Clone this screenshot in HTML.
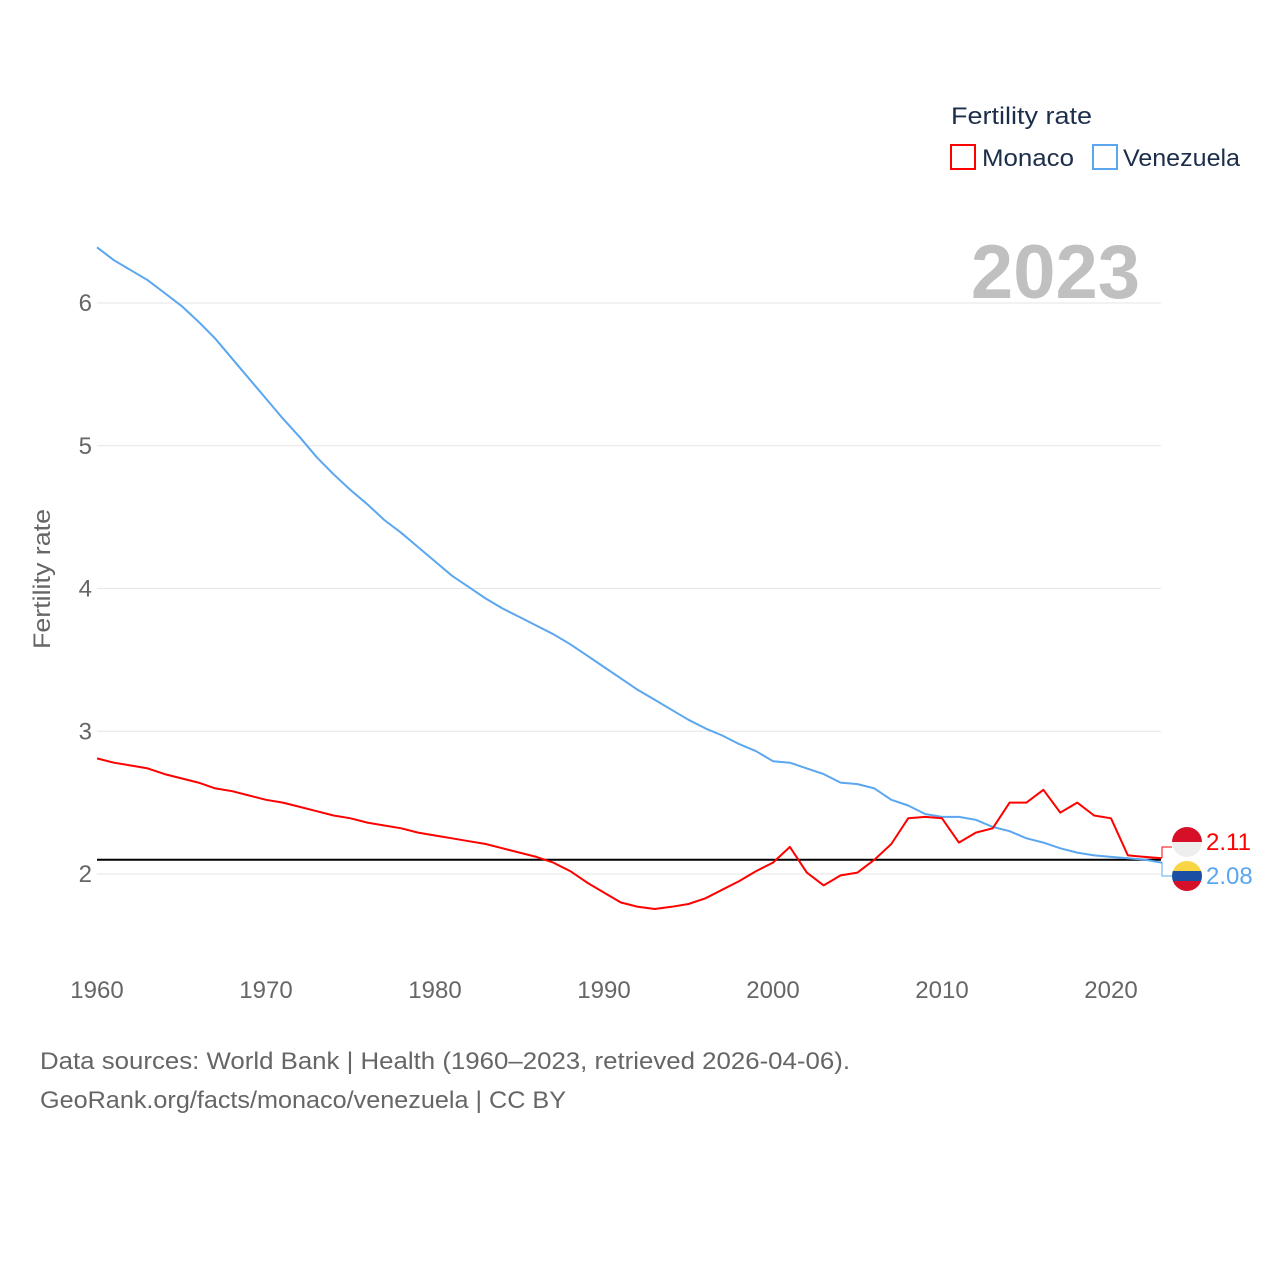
<!DOCTYPE html>
<html><head><meta charset="utf-8"><style>
html,body{margin:0;padding:0;background:#fff;}
svg{display:block;font-family:"Liberation Sans",sans-serif;}
</style></head><body>
<svg id="chart" width="1280" height="1280" viewBox="0 0 1280 1280">
<g id="grid"></g>
<g id="yticks"></g>
<g id="xticks"></g>
<text x="50" y="579" transform="rotate(-90 50 579)" text-anchor="middle" font-size="24" fill="#666" textLength="140" lengthAdjust="spacingAndGlyphs">Fertility rate</text>
<text x="1140" y="298" text-anchor="end" font-size="76" font-weight="bold" fill="#c0c0c0">2023</text>
<g id="series"></g>
<g>
<text x="951" y="124" font-size="24" fill="#1c2e4a" textLength="141" lengthAdjust="spacingAndGlyphs">Fertility rate</text>
<g><rect x="951" y="145" width="24" height="24" fill="none" stroke="#f00" stroke-width="2"/><text x="982" y="166" font-size="24" fill="#1c2e4a" textLength="92" lengthAdjust="spacingAndGlyphs">Monaco</text></g>
<g><rect x="1093" y="145" width="24" height="24" fill="none" stroke="#5aa7f0" stroke-width="2"/><text x="1123" y="166" font-size="24" fill="#1c2e4a" textLength="117" lengthAdjust="spacingAndGlyphs">Venezuela</text></g>
</g>
<g>
<path d="M1162 858 V847 H1172" fill="none" stroke="#f00" stroke-width="1"/>
<path d="M1162 862 V876 H1172" fill="none" stroke="#5aa7f0" stroke-width="1"/>
<defs><clipPath id="c1"><circle cx="1187" cy="842" r="15"/></clipPath><clipPath id="c2"><circle cx="1187" cy="876" r="15"/></clipPath></defs>
<g clip-path="url(#c1)"><rect x="1170" y="826" width="34" height="16" fill="#d7102a"/><rect x="1170" y="842" width="34" height="16" fill="#eee"/></g>
<g clip-path="url(#c2)"><rect x="1170" y="860" width="34" height="11" fill="#f9d443"/><rect x="1170" y="871" width="34" height="10" fill="#1b4fa3"/><rect x="1170" y="881" width="34" height="12" fill="#d7102a"/></g>
<text x="1206" y="850" font-size="24" fill="#f00">2.11</text>
<text x="1206" y="884" font-size="24" fill="#5aa7f0">2.08</text>
</g>
<g>
<text x="40" y="1069" font-size="24" fill="#666" textLength="810" lengthAdjust="spacingAndGlyphs">Data sources: World Bank | Health (1960–2023, retrieved 2026-04-06).</text>
<text x="40" y="1108" font-size="24" fill="#666" textLength="526" lengthAdjust="spacingAndGlyphs">GeoRank.org/facts/monaco/venezuela | CC BY</text>
</g>
</svg>
<script>
const years = [];
for (let y = 1960; y <= 2023; y++) years.push(y);
const monaco = [2.81,2.78,2.76,2.74,2.70,2.67,2.64,2.60,2.58,2.55,2.52,2.50,2.47,2.44,2.41,2.39,2.36,2.34,2.32,2.29,2.27,2.25,2.23,2.21,2.18,2.15,2.12,2.08,2.02,1.94,1.87,1.80,1.77,1.755,1.77,1.79,1.83,1.89,1.95,2.02,2.08,2.19,2.01,1.92,1.99,2.01,2.10,2.21,2.39,2.40,2.39,2.22,2.29,2.32,2.50,2.50,2.59,2.43,2.50,2.41,2.39,2.13,2.12,2.11];
const venezuela = [6.39,6.30,6.23,6.16,6.07,5.98,5.87,5.75,5.61,5.47,5.33,5.19,5.06,4.92,4.80,4.69,4.59,4.48,4.39,4.29,4.19,4.09,4.01,3.93,3.86,3.80,3.74,3.68,3.61,3.53,3.45,3.37,3.29,3.22,3.15,3.08,3.02,2.97,2.91,2.86,2.79,2.78,2.74,2.70,2.64,2.63,2.60,2.52,2.48,2.42,2.40,2.40,2.38,2.33,2.30,2.25,2.22,2.18,2.15,2.13,2.12,2.11,2.10,2.08];
const yTicks = [2,3,4,5,6];
const xTicks = [1960,1970,1980,1990,2000,2010,2020];
const refLevel = [2.1];

const NS = "http://www.w3.org/2000/svg";
const X = v => 97 + (v - 1960) * (1111 - 97) / 60;
const Y = v => 874 - (v - 2) * 142.75;
function mk(tag, attrs, parent) {
  const e = document.createElementNS(NS, tag);
  for (const k in attrs) e.setAttribute(k, attrs[k]);
  parent.appendChild(e);
  return e;
}
const grid = document.getElementById('grid');
const yt = document.getElementById('yticks');
const xt = document.getElementById('xticks');
const ser = document.getElementById('series');
yTicks.forEach(t => {
  const l = mk('line', {x1: 97, x2: 1161, y1: Y(t), y2: Y(t), stroke: '#e6e6e6', 'stroke-width': 1}, grid);
  
  
  const tx = mk('text', {x: 92, y: Y(t) + 8, 'text-anchor': 'end', 'font-size': 24, fill: '#666'}, yt);
  tx.textContent = t;
  
  
});
xTicks.forEach(t => {
  const tx = mk('text', {x: X(t), y: 998, 'text-anchor': 'middle', 'font-size': 24, fill: '#666'}, xt);
  tx.textContent = t;
  
  
});
const ref = mk('line', {x1: 97, x2: 1161, y1: Y(refLevel[0]), y2: Y(refLevel[0]), stroke: '#000', 'stroke-width': 2}, ser);


function line(vals, color, name) {
  const d = vals.map((v, i) => (i ? 'L' : 'M') + X(years[i]).toFixed(1) + ' ' + Y(v).toFixed(1)).join(' ');
  const p = mk('path', {d: d, fill: 'none', stroke: color, 'stroke-width': 2, 'stroke-linejoin': 'round'}, ser);
  
  
}
line(venezuela, '#5aa7f0', 'venezuela-line');
line(monaco, '#f00', 'monaco-line');
</script>
</body></html>
